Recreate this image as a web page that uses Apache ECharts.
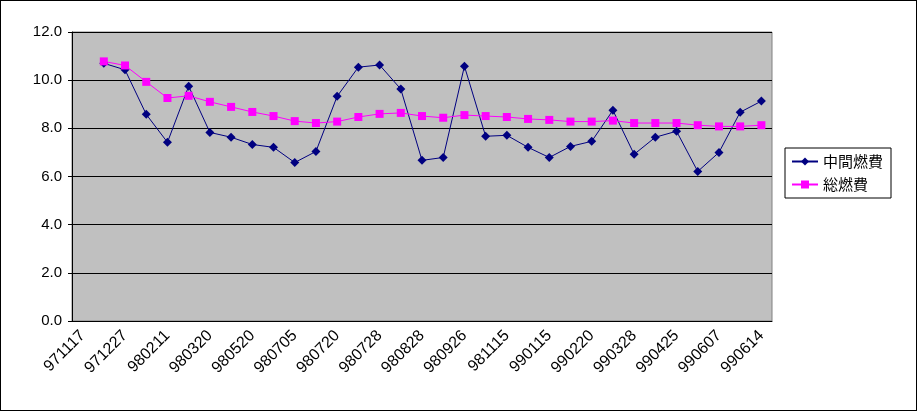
<!doctype html>
<html>
<head>
    <meta charset="UTF-8">
    <title>燃費</title>
    <script src="https://cdn.jsdelivr.net/npm/echarts@6/dist/echarts.min.js"></script>
</head>
<body style="margin:0">
<div id="main" style="width:915px;height:409px;border:1px solid #000;"></div>
<script type="text/javascript">
    // 33 categories, labels on every other one, first has no data
    var categories = ['971117', '', '971227', '', '980211', '', '980320', '', '980520', '', '980705', '',
        '980720', '', '980728', '', '980828', '', '980926', '', '981115', '', '990115', '',
        '990220', '', '990328', '', '990425', '', '990607', '', '990614'];
    var chukan = ['-', 10.7, 10.43, 8.58, 7.42, 9.75, 7.83, 7.63, 7.33, 7.21, 6.58, 7.04, 9.33, 10.54, 10.63, 9.63,
        6.67, 6.79, 10.58, 7.67, 7.71, 7.21, 6.79, 7.25, 7.46, 8.75, 6.92, 7.63, 7.88, 6.21, 7.0, 8.67, 9.13];
    var sou = ['-', 10.78, 10.61, 9.93, 9.26, 9.35, 9.10, 8.89, 8.68, 8.51, 8.30, 8.22, 8.28, 8.47, 8.6, 8.64,
        8.51, 8.44, 8.55, 8.51, 8.47, 8.39, 8.35, 8.28, 8.28, 8.32, 8.22, 8.22, 8.22, 8.13, 8.08, 8.08, 8.13];
    var yTicks = [0, 2, 4, 6, 8, 10, 12];

    var myChart = echarts.init(document.getElementById('main'));
    var option = {
        backgroundColor: '#fff',
        animation: false,
        textStyle: {fontFamily: '"Noto Sans CJK JP", sans-serif'},
        grid: {left: 71, right: 144, top: 31, bottom: 89, backgroundColor: '#C0C0C0', show: true, borderColor: '#808080', borderWidth: 1},
        legend: {
            orient: 'vertical',
            left: 784,
            top: 147,
            padding: [6, 8, 6, 6],
            itemGap: 8,
            itemWidth: 26,
            itemHeight: 10,
            borderColor: '#000',
            borderWidth: 1,
            textStyle: {fontSize: 15, color: '#000'},
            data: ['中間燃費', '総燃費']
        },
        xAxis: {
            type: 'category',
            data: categories,
            boundaryGap: true,
            axisLine: {lineStyle: {color: '#000'}},
            axisTick: {interval: 0, length: 5, lineStyle: {color: '#000'}},
            axisLabel: {interval: 0, rotate: 45, color: '#000', fontSize: 16, fontFamily: '"Liberation Sans", sans-serif', margin: 12}
        },
        yAxis: {
            type: 'value',
            min: 0,
            max: 12,
            interval: 2,
            axisLine: {show: true, lineStyle: {color: '#000'}},
            axisTick: {show: true, length: 4, lineStyle: {color: '#000'}},
            splitLine: {lineStyle: {color: '#000'}},
            axisLabel: {color: '#000', fontSize: 15, fontFamily: '"Liberation Sans", sans-serif', margin: 10,
                formatter: function (v) { return yTicks.indexOf(v) >= 0 ? v.toFixed(1) : ''; }}
        },
        series: [
            {
                name: '中間燃費',
                type: 'line',
                data: chukan,
                symbol: 'diamond',
                symbolSize: 9,
                lineStyle: {color: '#000080', width: 1},
                itemStyle: {color: '#000080'}
            },
            {
                name: '総燃費',
                type: 'line',
                data: sou,
                symbol: 'rect',
                symbolSize: 8,
                lineStyle: {color: '#FF00FF', width: 1},
                itemStyle: {color: '#FF00FF'}
            }
        ]
    };
    myChart.setOption(option);
</script>
</body>
</html>
